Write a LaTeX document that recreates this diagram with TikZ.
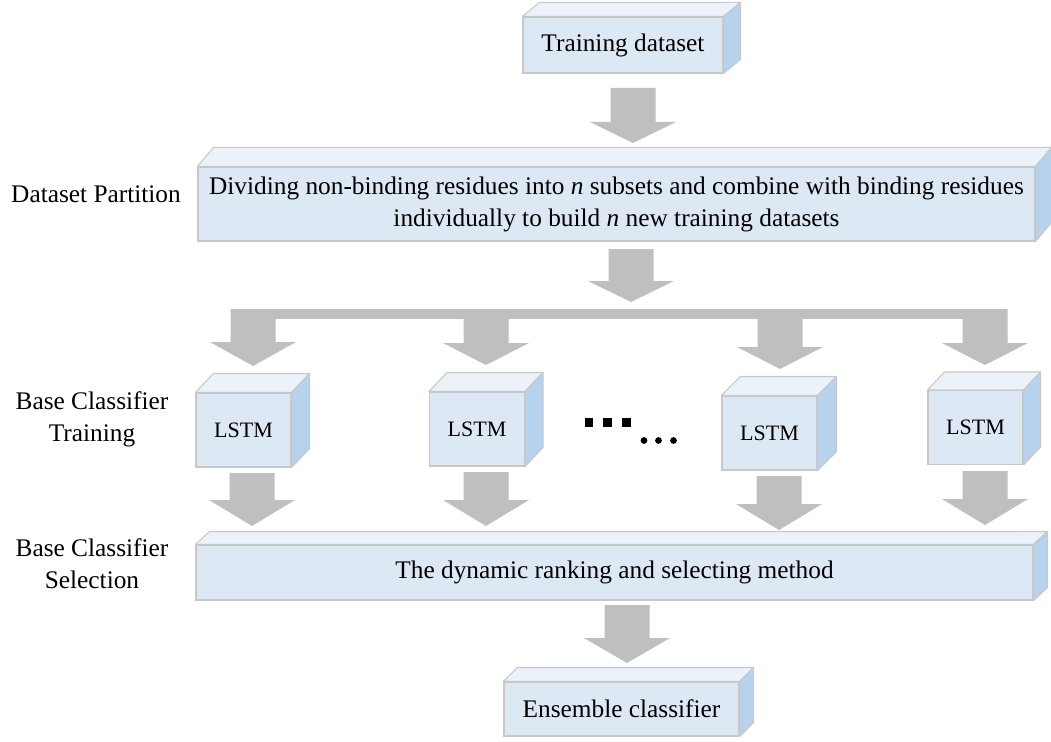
\documentclass[tikz,border=0pt]{standalone}
\usepackage{fontspec}
\setmainfont{Liberation Serif}
\usetikzlibrary{calc}

\definecolor{facefront}{HTML}{DDE8F5}
\definecolor{facetop}{HTML}{EBF2FA}
\definecolor{faceside}{HTML}{B6D2EC}
\definecolor{boxline}{HTML}{C8C8C8}
\definecolor{arrowgray}{HTML}{BFBFBF}

\tikzset{
  front/.style={draw=boxline, fill=facefront, line width=0.8pt, inner sep=0pt,
    align=center, font=\fontsize{19}{24}\selectfont},
  lstm/.style={front, minimum width=71.25pt, minimum height=55.5pt,
    font=\fontsize{16.5}{20}\selectfont},
  topface/.style={draw=boxline, fill=facetop, line width=0.8pt, line join=round},
  sideface/.style={draw=boxline, fill=faceside, line width=0.8pt, line join=round},
  stagelabel/.style={align=center, font=\fontsize{19}{24}\selectfont},
  blockarrow/.style={fill=arrowgray},
}

% top and right faces of a 3D box whose front face is node #1, depth (#2,#3)
\newcommand\cubefaces[3]{%
  \filldraw[topface] (#1.north west) -- ++(#2,-#3) -- ($(#1.north east)+(#2,-#3)$)
    -- (#1.north east) -- cycle;
  \filldraw[sideface] (#1.north east) -- ++(#2,-#3) -- ($(#1.south east)+(#2,-#3)$)
    -- (#1.south east) -- cycle;}

% downward block arrow: centre x, shaft top, head top, tip
\newcommand\blockdown[4]{%
  \fill[blockarrow] (#1-22.5,#2) -- (#1+22.5,#2) -- (#1+22.5,#3) -- (#1+43,#3)
    -- (#1,#4) -- (#1-43,#3) -- (#1-22.5,#3) -- cycle;}

\begin{document}
\begin{tikzpicture}[x=0.75pt,y=-0.75pt]
\useasboundingbox (0,0) rectangle (1051,742);

% training data
\node[front, minimum width=150pt, minimum height=42pt] (train) at (623,45) {Training dataset};
\cubefaces{train}{17}{14}

\blockdown{633}{88}{122}{143}

% partition stage
\node[front, minimum width=627.75pt, minimum height=55.5pt] (part) at (616.5,204)
  {Dividing non-binding residues into \textit{n} subsets and combine with binding residues\\
   individually to build \textit{n} new training datasets};
\cubefaces{part}{16}{19}

\blockdown{631}{249}{281}{302}

% distribution bar and branch arrows
\fill[blockarrow] (232,309) rectangle (1007,319);
\blockdown{253}{309}{342}{366}
\blockdown{486}{309}{343}{365}
\blockdown{780}{309}{347}{369}
\blockdown{985}{309}{343}{365}

% base classifiers
\node[lstm] (l1) at (243.5,430) {LSTM};
\cubefaces{l1}{18}{19}
\node[lstm] (l2) at (477,429) {LSTM};
\cubefaces{l2}{18}{19}
\node[lstm] (l3) at (769.5,433) {LSTM};
\cubefaces{l3}{19}{19}
\node[lstm] (l4) at (975.5,427.5) {LSTM};
\cubefaces{l4}{17}{18}

% ellipsis between classifiers
\foreach \cx in {589,607.5,626.5}
  \fill (\cx-4.3,418.2) rectangle (\cx+4.3,426.8);
\foreach \cx in {644,658.5,673.5}
  \fill (\cx,440.5) circle (3.4);

% arrows into the selection stage
\blockdown{252}{473}{500}{526}
\blockdown{486}{472}{500}{526}
\blockdown{779}{476}{504}{530}
\blockdown{985}{471}{499}{525}

% selection stage
\node[front, minimum width=627.75pt, minimum height=41.25pt] (sel) at (614.5,572.5)
  {The dynamic ranking and selecting method};
\cubefaces{sel}{14}{13}

\blockdown{627}{605}{638}{663}

% final ensemble
\node[front, minimum width=176.25pt, minimum height=40.5pt] (ens) at (621.5,709) {Ensemble classifier};
\cubefaces{ens}{14}{14}

% stage labels
\node[stagelabel] (lab1) at (96,194) {Dataset Partition};
\node[stagelabel] (lab2) at (92,419) {Base Classifier\\Training};
\node[stagelabel] (lab3) at (92,564) {Base Classifier\\Selection};
\end{tikzpicture}
\end{document}
